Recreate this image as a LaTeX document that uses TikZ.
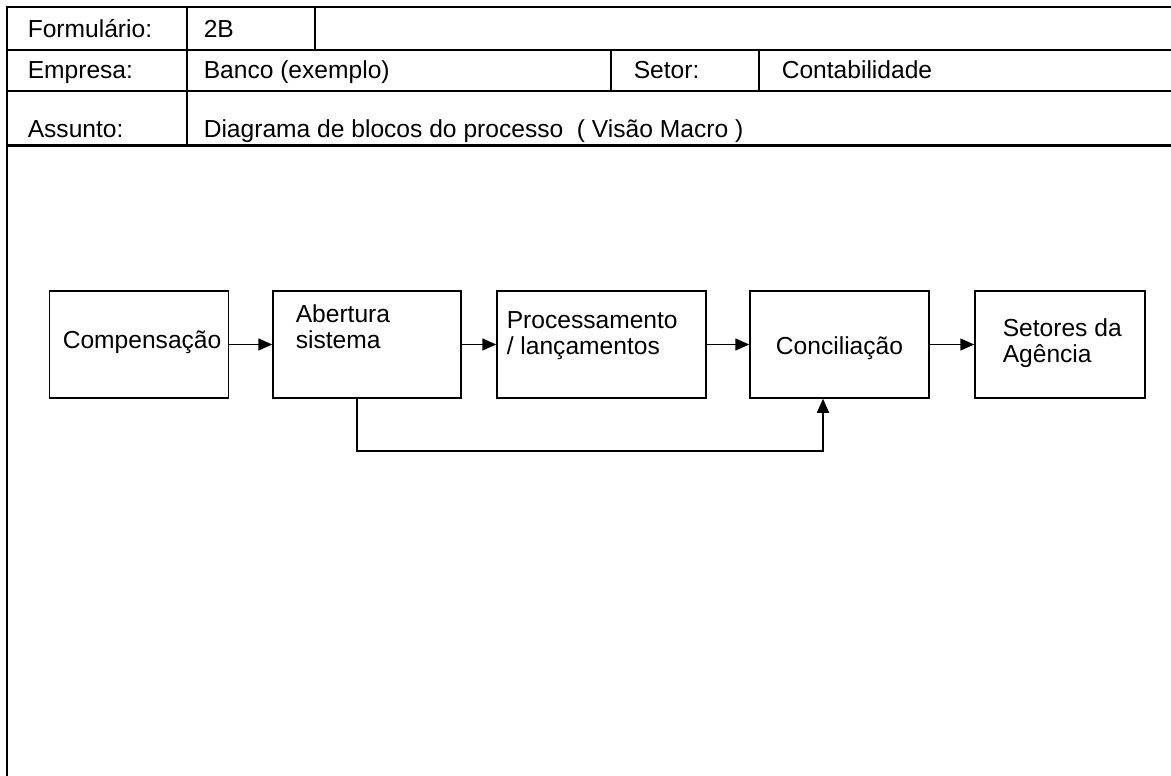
\documentclass[tikz,border=0pt]{standalone}
\usepackage{fontspec}
\setmainfont{Liberation Sans}
\usetikzlibrary{arrows.meta}
\begin{document}
\begin{tikzpicture}[x=1pt,y=-1pt,
  line width=1.5pt,
  txt/.style={font=\fontsize{24.6}{28}\selectfont, inner sep=0pt, anchor=base west},
  blk/.style={draw, line width=1.5pt, rectangle, inner sep=0pt},
  arr/.style={-{Triangle[length=14pt,width=12pt]}, line width=1.5pt}]
\useasboundingbox (0,0) rectangle (1171,776);
% header frame
\draw (1171,7) -- (7,7) -- (7,776);
\draw (7,50) -- (1171,50);
\draw (7,91) -- (1171,91);
\draw[line width=3pt] (7,145) -- (1171,145);
\draw (187,7) -- (187,145);
\draw (315,7) -- (315,50);
\draw (611,50) -- (611,91);
\draw (759,50) -- (759,91);
% header texts
\node[txt] (lform) at (27,38) {Formulário:};
\node[txt] (vform) at (203,38) {2B};
\node[txt] (lemp) at (27,79) {Empresa:};
\node[txt] (vemp) at (203,79) {Banco (exemplo)};
\node[txt] (lset) at (633,79) {Setor:};
\node[txt] (vset) at (781,79) {Contabilidade};
\node[txt] (lass) at (27,138) {Assunto:};
\node[txt] (vass) at (203,138) {Diagrama de blocos do processo \ ( Visão Macro )};
% blocks
\node[blk, minimum width=179pt, minimum height=107pt] (comp) at (139,344.5) {};
\node[blk, minimum width=188pt, minimum height=107pt] (aber) at (367,344.5) {};
\node[blk, minimum width=209pt, minimum height=107pt] (proc) at (601.5,344.5) {};
\node[blk, minimum width=179pt, minimum height=107pt] (conc) at (839.5,344.5) {};
\node[blk, minimum width=170pt, minimum height=107pt] (seto) at (1060,344.5) {};
% block texts
\node[txt] (tcomp) at (62,348) {Compensação};
\node[txt] (taber1) at (295,322) {Abertura};
\node[txt] (taber2) at (295,348) {sistema};
\node[txt] (tproc1) at (506,328) {Processamento};
\node[txt] (tproc2) at (506,354) {/ lançamentos};
\node[txt, anchor=base] (tconc) at (839.5,354) {Conciliação};
\node[txt] (tset1) at (1002,336) {Setores da};
\node[txt] (tset2) at (1002,362) {Agência};
% connectors
\draw[arr] (comp.east) -- (aber.west);
\draw[arr] (aber.east) -- (proc.west);
\draw[arr] (proc.east) -- (conc.west);
\draw[arr] (conc.east) -- (seto.west);
\coordinate (fb1) at (357,451);
\coordinate (fb2) at (823,451);
\draw[arr] (aber.south -| fb1) -- (fb1) -- (fb2) -- (fb2 |- conc.south);
\end{tikzpicture}
\end{document}
